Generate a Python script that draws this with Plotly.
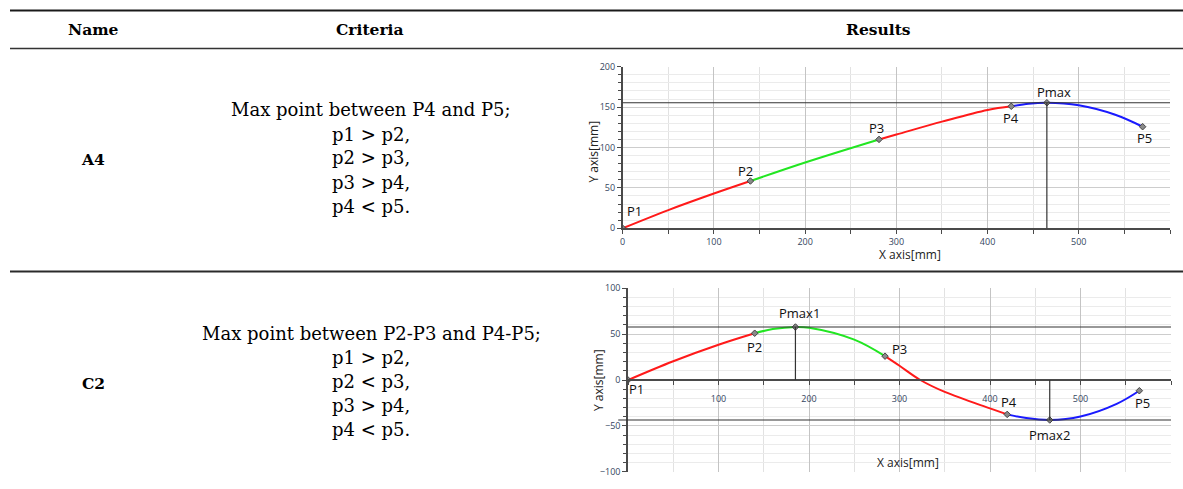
import plotly.graph_objects as go

W, H = 1183, 489

# ---- table text ----
header_names = ["Name", "Criteria", "Results"]
row_names = ["A4", "C2"]
row_criteria = [
    ["Max point between P4 and P5;", "p1 > p2,", "p2 > p3,", "p3 > p4,", "p4 < p5."],
    ["Max point between P2-P3 and P4-P5;", "p1 > p2,", "p2 < p3,", "p3 > p4,", "p4 < p5."],
]

# ---- A4 trajectory (mm), traced per segment ----
a4_seg_x = [
    [0, 50, 100, 140],
    [140, 200, 281],
    [281, 300, 350, 400, 426],
    [426, 445, 465, 500, 540, 570],
]
a4_seg_y = [
    [0, 22.5, 43, 58.5],
    [58.5, 81.5, 110],
    [110, 116, 132, 146.5, 151],
    [151, 154.2, 155.4, 152.2, 140.5, 125.7],
]
a4_pts_x = [0, 140, 281, 426, 570]
a4_pts_y = [0, 58.5, 110, 151, 125.7]
a4_max_x = [465]
a4_max_y = [155.4]

# ---- C2 trajectory (mm), traced per segment ----
c2_seg_x = [
    [0, 50, 100, 140],
    [140, 160, 185, 200, 250, 284],
    [284, 300, 323, 350, 400, 419],
    [419, 440, 466, 500, 540, 565],
]
c2_seg_y = [
    [0, 20.5, 38.5, 51],
    [51, 55.5, 57.8, 57, 44, 26],
    [26, 15.5, 0, -13, -31, -37.5],
    [-37.5, -41.5, -43.6, -39.8, -26, -11.7],
]
c2_pts_x = [0, 140, 284, 419, 565]
c2_pts_y = [0, 51, 26, -37.5, -11.7]
c2_max_x = [185, 466]
c2_max_y = [57.8, -43.6]

seg_colors = ["#ff1a1a", "#22e622", "#ff1a1a", "#1a1aff"]

# label text and pixel offsets for each marked point
a4_labels = ["P1", "P2", "P3", "P4", "P5", "Pmax"]
a4_label_off = [(12, 17), (-5, 10), (-3, 11), (0, -12), (2, -11), (7, 11)]
c2_labels = ["P1", "P2", "P3", "P4", "P5", "Pmax1", "Pmax2"]
c2_label_off = [(8, -9), (0, -14), (14, 7), (2, 12), (3, -12), (4, 14), (0, -15)]


def py(p):
    """pixel row -> paper y"""
    return (H - p) / H


def px(p):
    return p / W


fig = go.Figure()

serif = "DejaVu Serif"
sans = "Open Sans"
tick_col = "#34465e"
dark = "#333333"


def add_chart(seg_x, seg_y, pts_x, pts_y, mx, my, xa, ya):
    for sx, sy, c in zip(seg_x, seg_y, seg_colors):
        fig.add_trace(go.Scatter(
            x=sx, y=sy, mode="lines", xaxis=xa, yaxis=ya,
            line=dict(color=c, width=2, shape="spline", smoothing=1.0),
            showlegend=False, hoverinfo="skip"))
    fig.add_trace(go.Scatter(
        x=pts_x + mx, y=pts_y + my, mode="markers", xaxis=xa, yaxis=ya,
        marker=dict(symbol="diamond", size=5, color="#8a8a8a",
                    line=dict(color="#444", width=1)),
        showlegend=False, hoverinfo="skip"))


add_chart(a4_seg_x, a4_seg_y, a4_pts_x, a4_pts_y, a4_max_x, a4_max_y, "x", "y")
add_chart(c2_seg_x, c2_seg_y, c2_pts_x, c2_pts_y, c2_max_x, c2_max_y, "x2", "y2")


def axis_common():
    return dict(
        showline=True, linecolor="#4a4a4a", linewidth=1.5,
        ticks="outside", ticklen=4, tickwidth=1, tickcolor="#4a4a4a",
        tickfont=dict(family=sans, size=9, color=tick_col),
        zeroline=False, fixedrange=True, automargin=False,
    )


fig.update_layout(
    width=W, height=H,
    margin=dict(l=0, r=0, t=0, b=0, autoexpand=False),
    paper_bgcolor="white", plot_bgcolor="white",
    showlegend=False,
    xaxis=dict(
        **axis_common(), domain=[px(622.7), px(1170)], range=[0, 600],
        anchor="y", tickvals=[0, 100, 200, 300, 400, 500],
        showgrid=True, gridcolor="#c4c4c4", gridwidth=1.3,
        minor=dict(dtick=50, showgrid=True, gridcolor="#e2e2e2", gridwidth=1,
                   ticks="outside", ticklen=4, tickcolor="#4a4a4a"),
    ),
    yaxis=dict(
        **axis_common(), domain=[py(228.3), py(66.7)], range=[0, 200],
        anchor="x", dtick=50,
        showgrid=True, gridcolor="#cdcdcd", gridwidth=1.3,
        minor=dict(dtick=10, showgrid=True, gridcolor="#ebebeb", gridwidth=1,
                   ticks="outside", ticklen=3, tickcolor="#4a4a4a"),
    ),
    xaxis2=dict(
        **axis_common(), domain=[px(628), px(1171)], range=[0, 600],
        anchor="free", position=py(380), tickvals=[100, 200, 300, 400, 500],
        ticklabelstandoff=6,
        showgrid=True, gridcolor="#c4c4c4", gridwidth=1.3,
        minor=dict(dtick=50, showgrid=True, gridcolor="#e2e2e2", gridwidth=1,
                   ticks="outside", ticklen=4, tickcolor="#4a4a4a"),
    ),
    yaxis2=dict(
        **axis_common(), domain=[py(471.7), py(288.3)], range=[-100, 100],
        anchor="x2", dtick=50,
        showgrid=True, gridcolor="#cdcdcd", gridwidth=1.3,
        minor=dict(dtick=10, showgrid=True, gridcolor="#ebebeb", gridwidth=1,
                   ticks="outside", ticklen=3, tickcolor="#4a4a4a"),
    ),
)

# ---- reference lines through the maximum points ----
shapes = []
for x0, y0 in zip(a4_max_x, a4_max_y):
    shapes.append(dict(type="line", xref="x domain", yref="y", x0=0, x1=1, y0=y0, y1=y0,
                       line=dict(color=dark, width=1.2)))
    shapes.append(dict(type="line", xref="x", yref="y", x0=x0, x1=x0, y0=0, y1=y0,
                       line=dict(color=dark, width=1.2)))
for x0, y0 in zip(c2_max_x, c2_max_y):
    shapes.append(dict(type="line", xref="x2 domain", yref="y2",
                       x0=0 if y0 > 0 else -0.018, x1=1, y0=y0, y1=y0,
                       line=dict(color=dark, width=1.2)))
    shapes.append(dict(type="line", xref="x2", yref="y2", x0=x0, x1=x0, y0=0, y1=y0,
                       line=dict(color=dark, width=1.2)))

# ---- table rules ----
rules = [(10.5, 2.2, "#1a1a1a"), (48.5, 1.4, "#333"), (271.5, 1.8, "#2a2a2a")]
for yy, w, c in rules:
    shapes.append(dict(type="line", xref="paper", yref="paper", x0=px(10), x1=1.0,
                       y0=py(yy), y1=py(yy), line=dict(color=c, width=w)))
fig.update_layout(shapes=shapes)

# ---- text ----
ann = []


def paper_text(text, x, y, font, angle=0):
    ann.append(dict(text=text, x=px(x), y=py(y), xref="paper", yref="paper",
                    xanchor="center", yanchor="middle", showarrow=False,
                    textangle=angle, font=font))


bold_font = dict(family=serif, size=15.5, color="black")
for name, cx in zip(header_names, [93, 370, 878]):
    paper_text(f"<b>{name}</b>", cx, 29, bold_font)
for name, cy in zip(row_names, [160, 383]):
    paper_text(f"<b>{name}</b>", 93, cy, bold_font)
for lines, top in zip(row_criteria, [110, 333]):
    for i, line in enumerate(lines):
        paper_text(line, 371, top + 24 * i, dict(family=serif, size=18, color="black"))

# axis titles
title_font = dict(family=sans, size=12, color="#222")
paper_text("X axis[mm]", 910, 254, title_font)
paper_text("Y axis[mm]", 593, 151.5, title_font, -90)
paper_text("X axis[mm]", 908, 462.5, title_font)
paper_text("Y axis[mm]", 598, 380, title_font, -90)

# point labels
lab_font = dict(family=sans, size=13, color="#111")
for t, x0, y0, (dx, dy) in zip(a4_labels, a4_pts_x + a4_max_x, a4_pts_y + a4_max_y, a4_label_off):
    ann.append(dict(text=t, x=x0, y=y0, xref="x", yref="y", showarrow=False,
                    xanchor="center", yanchor="middle", xshift=dx, yshift=dy, font=lab_font))
for t, x0, y0, (dx, dy) in zip(c2_labels, c2_pts_x + c2_max_x, c2_pts_y + c2_max_y, c2_label_off):
    ann.append(dict(text=t, x=x0, y=y0, xref="x2", yref="y2", showarrow=False,
                    xanchor="center", yanchor="middle", xshift=dx, yshift=dy, font=lab_font))
fig.update_layout(annotations=ann)

fig.write_html("out.html")
